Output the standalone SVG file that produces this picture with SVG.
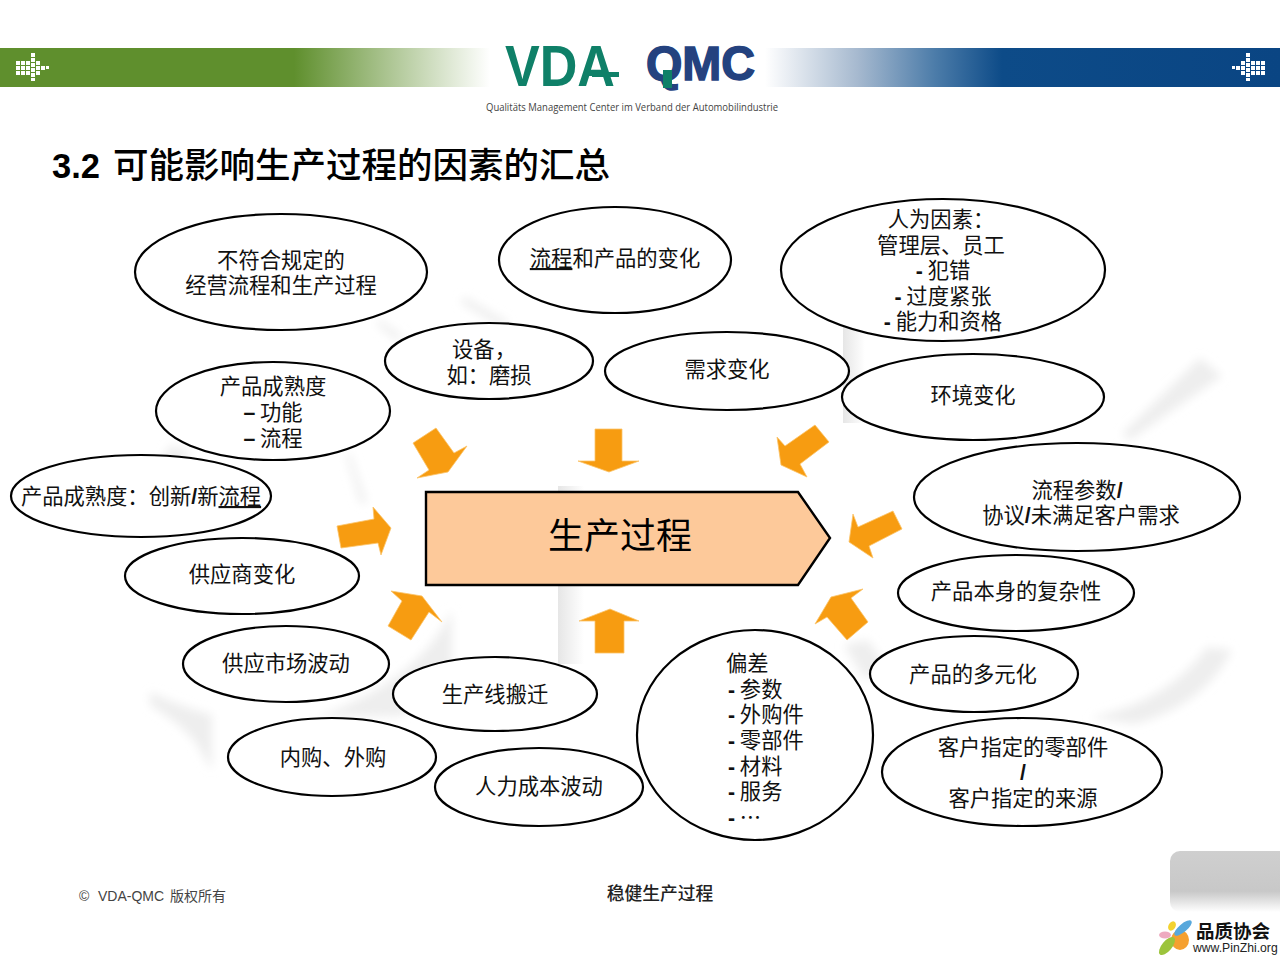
<svg xmlns="http://www.w3.org/2000/svg" width="1280" height="959" viewBox="0 0 1280 959">
<style>
text{font-family:"Noto Sans CJK SC","Liberation Sans",sans-serif;fill:#111}
.t{font-size:21.3px;text-anchor:middle}
.s{font-size:21.3px}
.u{text-decoration:underline}
.l{font-family:"Liberation Sans",sans-serif;font-weight:700}
ellipse{fill:#fff;stroke:#000;stroke-width:2.2}
.a{fill:#f79c11;stroke:#fbc469;stroke-width:.8}
.d{fill:#fff}
.w{fill:#eeeeee;filter:url(#soft)}
</style>
<defs>
<linearGradient id="gl" x1="0" x2="1" y1="0" y2="0"><stop offset="0" stop-color="#5f8f2d"/><stop offset=".6" stop-color="#5f8f2d"/><stop offset="1" stop-color="#fff"/></linearGradient>
<linearGradient id="gr" x1="0" x2="1" y1="0" y2="0"><stop offset="0" stop-color="#fff"/><stop offset=".18" stop-color="#a6b9cf"/><stop offset=".33" stop-color="#4c7ca9"/><stop offset=".46" stop-color="#0d4b88"/><stop offset="1" stop-color="#0a4583"/></linearGradient>
<linearGradient id="wm" x1="0" x2="1" y1="0" y2="0"><stop offset="0" stop-color="#e6e6e6"/><stop offset="1" stop-color="#fff"/></linearGradient>
<linearGradient id="box" x1="0" x2="0" y1="0" y2="1"><stop offset="0" stop-color="#cfcfcf"/><stop offset=".66" stop-color="#c8c8c8"/><stop offset="1" stop-color="#fff"/></linearGradient>
<filter id="soft" x="-30%" y="-30%" width="160%" height="160%"><feGaussianBlur stdDeviation="5"/></filter>
<g id="dots"><rect x="-2" y="-14" width="4" height="4"/><rect x="-2" y="-9" width="4" height="4"/><rect x="-2" y="-4" width="4" height="4"/><rect x="-2" y="1" width="4" height="4"/><rect x="-2" y="6" width="4" height="4"/><rect x="-2" y="11" width="4" height="3"/><rect x="-7" y="-6" width="4" height="4"/><rect x="-7" y="-1" width="4" height="4"/><rect x="-7" y="4" width="4" height="4"/><rect x="-12" y="-6" width="4" height="4"/><rect x="-12" y="-1" width="4" height="4"/><rect x="-12" y="4" width="4" height="4"/><rect x="-17" y="-6" width="4" height="4"/><rect x="-17" y="-1" width="4" height="4"/><rect x="-17" y="4" width="4" height="4"/><rect x="3" y="-6" width="4" height="4"/><rect x="3" y="-1" width="4" height="4"/><rect x="3" y="4" width="4" height="4"/><rect x="8" y="-1" width="4" height="4"/><rect x="13" y="-1" width="3" height="3"/></g>
</defs>
<rect width="1280" height="959" fill="#fff"/>
<g id="watermark">
<rect x="558" y="486" width="26" height="178" fill="url(#wm)"/>
<rect x="843" y="327" width="22" height="96" fill="url(#wm)"/>
<path d="M452 610 Q420 680 317 717 L400 716 Q452 690 452 658Z" class="w"/>
<path d="M150 692 Q180 706 212 715 L212 770 L200 750 Q190 730 150 705Z" class="w"/>
<path d="M1207 647 Q1170 700 1090 718 L1135 724 Q1205 705 1232 650Z" class="w"/>
<path d="M844 645 L868 640 L885 665 L865 680Z" class="w"/>
<path d="M1200 358 L1222 376 L1130 440 L1122 434Z" class="w"/>
<path d="M465 297 L510 323 L500 327 L460 302Z" class="w"/>
<path d="M380 320 L404 337 L396 340 L376 324Z" class="w"/>
<path d="M350 453 L367 503 L360 503 L346 455Z" class="w"/>
<path d="M171 445 L192 452 L176 468 L160 462Z" class="w"/>
</g>
<g id="header">
<rect x="0" y="48" width="490" height="39" fill="url(#gl)"/>
<rect x="765" y="48" width="515" height="39" fill="url(#gr)"/>
<use href="#dots" x="33" y="67" class="d"/>
<use href="#dots" transform="translate(1248 67) scale(-1 1)" class="d"/>
<text x="505" y="86" font-size="57" font-weight="700" textLength="110" lengthAdjust="spacingAndGlyphs" style="fill:#0f8068;font-family:'Liberation Sans',sans-serif">VDA</text>
<rect x="592" y="72" width="27" height="5" fill="#0f8068"/>
<text x="646" y="80" font-size="48" font-weight="700" textLength="109" lengthAdjust="spacingAndGlyphs" style="fill:#24427f;stroke:#24427f;stroke-width:1.5;font-family:'Liberation Sans',sans-serif">QMC</text>
<rect x="663" y="70" width="9" height="18" fill="#0f8068"/>
<text x="486" y="111" font-size="10" textLength="292" lengthAdjust="spacingAndGlyphs" style="fill:#444;font-family:'Open Sans',sans-serif">Qualitäts Management Center im Verband der Automobilindustrie</text>
</g>
<text id="title" y="178" font-size="35.5" style="fill:#000;font-weight:500"><tspan x="52" font-family="Liberation Sans" font-weight="700" font-size="34.5">3.2</tspan><tspan x="113">可能影响生产过程的因素的汇总</tspan></text>
<g id="connectors">
<polygon class="a" points="595,429 622,429 622,461 639,461 609,472 578,461 595,461"/>
<polygon class="a" points="595,653 624,653 624,621 639,621 610,609 579,621 595,621"/>
<polygon class="a" points="436,428 413,443 429,470 417,478 448,472 467,446 454,453"/>
<polygon class="a" points="815,425 829,442 800,464 807,477 781,465 777,437 785,446"/>
<polygon class="a" points="337,526 341,548 378,543 381,555 391,528 373,507 374,519"/>
<polygon class="a" points="893,511 902,529 869,546 873,558 849,542 853,514 858,527"/>
<polygon class="a" points="391,591 422,596 442,622 429,612 411,640 388,626 402,601"/>
<polygon class="a" points="863,589 831,597 815,624 827,617 847,640 868,622 851,598"/>
</g>
<g id="process">
<polygon points="426,492 798,492 830,538 798,585 426,585" fill="#fdc99a" stroke="#000" stroke-width="2.4"/>
<text x="620" y="549" font-size="36" text-anchor="middle" style="fill:#000">生产过程</text>
</g>
<g id="n1"><ellipse cx="281" cy="272" rx="146" ry="58"/><text class="t" x="281" y="268">不符合规定的</text><text class="t" x="281" y="293">经营流程和生产过程</text></g>
<g id="n2"><ellipse cx="615" cy="260" rx="116" ry="53"/><text class="t" x="615" y="266"><tspan class="u">流程</tspan>和产品的变化</text></g>
<g id="n3"><ellipse cx="943" cy="270" rx="162" ry="71"/><text class="t" x="941" y="227">人为因素：</text><text class="t" x="941" y="253">管理层、员工</text><text class="t" x="943" y="278"><tspan class="l">-</tspan> 犯错</text><text class="t" x="943" y="304"><tspan class="l">-</tspan> 过度紧张</text><text class="t" x="943" y="329"><tspan class="l">-</tspan> 能力和资格</text></g>
<g id="n4"><ellipse cx="489" cy="361" rx="104" ry="38"/><text class="t" x="484" y="357">设备，</text><text class="t" x="489" y="383">如：磨损</text></g>
<g id="n5"><ellipse cx="727" cy="371" rx="122" ry="39"/><text class="t" x="727" y="377">需求变化</text></g>
<g id="n6"><ellipse cx="973" cy="397" rx="131" ry="43"/><text class="t" x="973" y="403">环境变化</text></g>
<g id="n7"><ellipse cx="273" cy="411" rx="117" ry="49"/><text class="t" x="273" y="394">产品成熟度</text><text class="t" x="273" y="420"><tspan class="l">–</tspan> 功能</text><text class="t" x="273" y="446"><tspan class="l">–</tspan> 流程</text></g>
<g id="n8"><ellipse cx="141" cy="496" rx="130" ry="41"/><text class="t" x="141" y="504">产品成熟度：创新<tspan class="l">/</tspan>新<tspan class="u">流程</tspan></text></g>
<g id="n9"><ellipse cx="1077" cy="497" rx="163" ry="54"/><text class="t" x="1077" y="498">流程参数<tspan class="l">/</tspan></text><text class="t" x="1081" y="523">协议<tspan class="l">/</tspan>未满足客户需求</text></g>
<g id="n10"><ellipse cx="242" cy="576" rx="117" ry="38"/><text class="t" x="242" y="582">供应商变化</text></g>
<g id="n11"><ellipse cx="1016" cy="593" rx="118" ry="38"/><text class="t" x="1016" y="599">产品本身的复杂性</text></g>
<g id="n12"><ellipse cx="286" cy="664" rx="103" ry="38"/><text class="t" x="286" y="671">供应市场波动</text></g>
<g id="n13"><ellipse cx="495" cy="694" rx="102" ry="37"/><text class="t" x="495" y="702">生产线搬迁</text></g>
<g id="n14"><ellipse cx="974" cy="674" rx="104" ry="38"/><text class="t" x="973" y="682">产品的多元化</text></g>
<g id="n15"><ellipse cx="755" cy="735" rx="118" ry="105"/><text class="s" x="726" y="671">偏差</text><text class="s" x="728" y="697"><tspan class="l">-</tspan> 参数</text><text class="s" x="728" y="722"><tspan class="l">-</tspan> 外购件</text><text class="s" x="728" y="748"><tspan class="l">-</tspan> 零部件</text><text class="s" x="728" y="774"><tspan class="l">-</tspan> 材料</text><text class="s" x="728" y="799"><tspan class="l">-</tspan> 服务</text><text class="s" x="728" y="825"><tspan class="l">-</tspan> …</text></g>
<g id="n16"><ellipse cx="332" cy="757" rx="104" ry="39"/><text class="t" x="333" y="765">内购、外购</text></g>
<g id="n17"><ellipse cx="539" cy="787" rx="104" ry="39"/><text class="t" x="539" y="794">人力成本波动</text></g>
<g id="n18"><ellipse cx="1022" cy="772" rx="140" ry="54"/><text class="t" x="1023" y="755">客户指定的零部件</text><text class="t l" x="1023" y="780">/</text><text class="t" x="1023" y="806">客户指定的来源</text></g>
<g id="footer">
<text y="901" font-size="14" style="fill:#444"><tspan x="79" font-family="Liberation Sans">©</tspan><tspan x="98" font-family="Liberation Sans">VDA-QMC</tspan><tspan x="170">版权所有</tspan></text>
<text x="660" y="900" font-size="17.8" text-anchor="middle" style="fill:#222;font-weight:500">稳健生产过程</text>
<rect x="1170" y="851" width="120" height="61" rx="10" fill="url(#box)"/>
<g id="pinzhi">
<ellipse cx="1180" cy="940" rx="9" ry="10" style="fill:#f5a030;stroke:none"/>
<ellipse cx="1167" cy="946" rx="5" ry="11" transform="rotate(40 1167 946)" style="fill:#9cc43c;stroke:none"/>
<ellipse cx="1165" cy="935" rx="6" ry="3.5" style="fill:#eeaac0;stroke:none"/>
<ellipse cx="1172" cy="926" rx="3.5" ry="5" transform="rotate(30 1172 926)" style="fill:#f3d230;stroke:none"/>
<ellipse cx="1183" cy="928" rx="4" ry="11" transform="rotate(50 1183 928)" style="fill:#58a8dc;stroke:none"/>
<text x="1196" y="938" font-size="18.5" style="fill:#111;font-weight:700">品质协会</text>
<text x="1193" y="952" font-size="12.2" style="fill:#222;font-family:'Liberation Sans',sans-serif">www.PinZhi.org</text>
</g>
</g>
</svg>
